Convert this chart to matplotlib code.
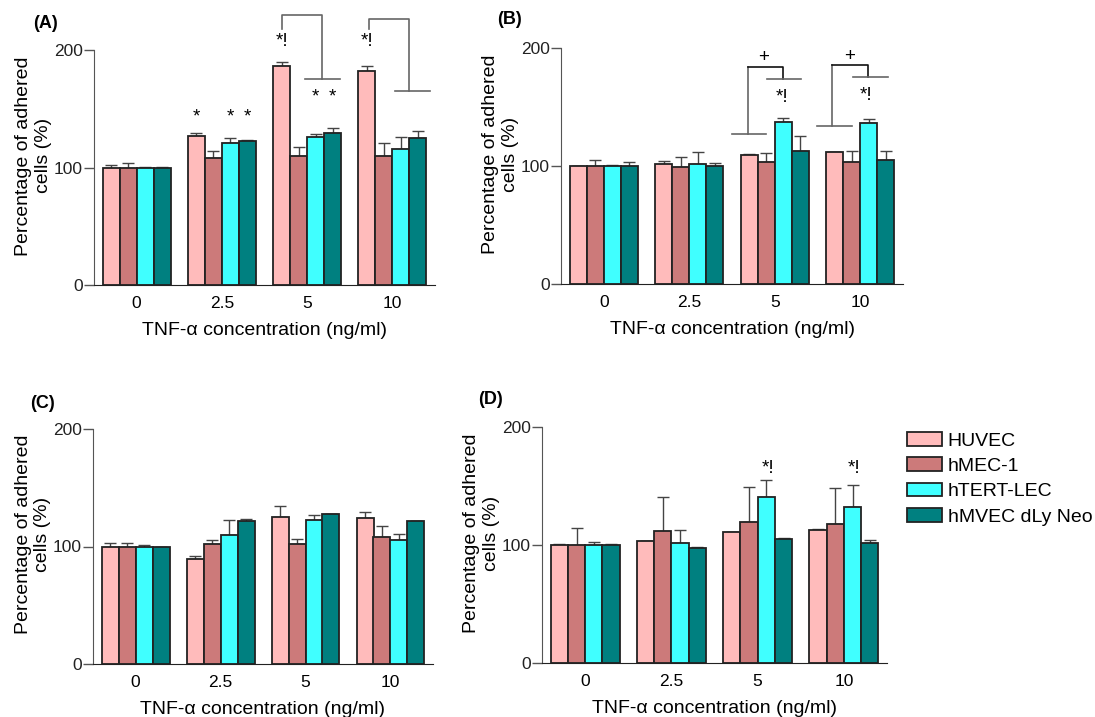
import numpy as np
import matplotlib
matplotlib.use("Agg")
import matplotlib.pyplot as plt

plt.rcParams["font.family"] = ["Liberation Sans", "DejaVu Sans"]

# --- datos ---
concentrations = ["0", "2.5", "5", "10"]
cell_lines = ["HUVEC", "hMEC-1", "hTERT-LEC", "hMVEC dLy Neo"]
colors = ["#FFBBBB", "#CC7A7A", "#40FFFF", "#008080"]

# panel A
a_huvec = [100, 126.6, 186, 182]
a_hmec = [100, 108, 110, 109.6]
a_htert = [100, 120.7, 126.3, 115.6]
a_hmvec = [100, 122.4, 129, 125]
a_huvec_err = [2, 2.5, 3.5, 4]
a_hmec_err = [4, 6.4, 7.6, 11]
a_htert_err = [0.5, 4.3, 2, 10.4]
a_hmvec_err = [0.5, 0.6, 4.4, 6.4]

# panel B
b_huvec = [100, 101.8, 109.4, 111.7]
b_hmec = [100, 99.3, 103.2, 103.2]
b_htert = [100, 102, 137, 136.8]
b_hmvec = [100, 99.9, 113, 105.5]
b_huvec_err = [0, 2.6, 0.9, 0.3]
b_hmec_err = [5.2, 8.5, 8.2, 9.8]
b_htert_err = [0.5, 9.7, 3.8, 3.4]
b_hmvec_err = [3.5, 2.5, 12.2, 7.3]

# panel C
c_huvec = [100, 89.5, 125, 124]
c_hmec = [100, 102, 102, 108.5]
c_htert = [100, 110, 122.4, 105.4]
c_hmvec = [100, 121.3, 127.8, 121.3]
c_huvec_err = [2.6, 2.3, 9.7, 5.3]
c_hmec_err = [3, 3.7, 4.3, 9.1]
c_htert_err = [1, 12.4, 4.3, 5.1]
c_hmvec_err = [0, 2.3, 0, 0]

# panel D
d_huvec = [100.3, 103.7, 110.7, 112.7]
d_hmec = [100, 112, 119.4, 118]
d_htert = [100, 101.4, 140.3, 132]
d_hmvec = [100, 97.5, 105.1, 101.7]
d_huvec_err = [0.7, 0, 0.2, 0.8]
d_hmec_err = [14.4, 28.3, 29.9, 30.5]
d_htert_err = [2.8, 11.6, 14.7, 19]
d_hmvec_err = [1, 0.8, 1.1, 2.5]

panels = {
    "(A)": ([a_huvec, a_hmec, a_htert, a_hmvec],
            [a_huvec_err, a_hmec_err, a_htert_err, a_hmvec_err]),
    "(B)": ([b_huvec, b_hmec, b_htert, b_hmvec],
            [b_huvec_err, b_hmec_err, b_htert_err, b_hmvec_err]),
    "(C)": ([c_huvec, c_hmec, c_htert, c_hmvec],
            [c_huvec_err, c_hmec_err, c_htert_err, c_hmvec_err]),
    "(D)": ([d_huvec, d_hmec, d_htert, d_hmvec],
            [d_huvec_err, d_hmec_err, d_htert_err, d_hmvec_err]),
}

# posiciones de ejes en pixeles (izq, der, arriba, abajo)
W, H = 1095, 717
boxes = {
    "(A)": (94, 435, 50, 285),
    "(B)": (561, 903, 48, 284),
    "(C)": (93, 433, 429, 664),
    "(D)": (542, 887, 427, 663),
}
label_pos = {"(A)": (33, 23), "(B)": (497, 20), "(C)": (30, 403), "(D)": (478, 400)}

fig = plt.figure(figsize=(W / 100, H / 100), dpi=100)
axes = {}
x = np.arange(len(concentrations))
width = 0.2

for name, (means, errs) in panels.items():
    l, r, t, b = boxes[name]
    ax = fig.add_axes([l / W, 1 - b / H, (r - l) / W, (b - t) / H])
    axes[name] = ax
    for i, (m, e) in enumerate(zip(means, errs)):
        pos = x + (i - 1.5) * width
        ax.bar(pos, m, width, color=colors[i], edgecolor="#222222",
               linewidth=1.3, label=cell_lines[i], zorder=2)
        ax.errorbar(pos, m, yerr=[np.zeros(len(e)), e], fmt="none",
                    ecolor="#444444", elinewidth=1.0, capsize=4, capthick=1.0,
                    zorder=1)
    ax.set_xlim(-0.5, 3.5)
    ax.set_ylim(0, 200)
    ax.set_yticks([0, 100, 200])
    ax.set_xticks(x)
    ax.set_xticklabels(concentrations)
    ax.tick_params(axis="x", length=0, pad=8, labelsize=12.5)
    ax.tick_params(axis="y", length=7, width=1, colors="#555555",
                   labelcolor="#222222", labelsize=12.5, pad=1)
    ax.spines["top"].set_visible(False)
    ax.spines["right"].set_visible(False)
    ax.spines["left"].set_color("#555555")
    ax.spines["bottom"].set_color("#222222")
    ax.set_xlabel("TNF-\u03b1 concentration (ng/ml)", fontsize=14, labelpad=8)
    ax.set_ylabel("Percentage of adhered\ncells (%)", fontsize=14,
                  linespacing=1.2)
    ax.yaxis.set_label_coords(-0.123, 0.55)
    fig.text(label_pos[name][0] / W, 1 - label_pos[name][1] / H, name,
             fontsize=13, fontweight="bold", va="center", ha="left")


def line(ax, xs, ys, color="#666666"):
    ax.plot(xs, ys, color=color, linewidth=1.2, clip_on=False, zorder=3)


def mark(ax, xpos, ypos, text):
    ax.text(xpos, ypos, text, ha="center", va="center", fontsize=13.5,
            clip_on=False)


# anotaciones A
ax = axes["(A)"]
for xp in [0.7, 1.1, 1.3]:
    mark(ax, xp, 143, "*")
for xp in [2.1, 2.3]:
    mark(ax, xp, 160, "*")
mark(ax, 1.7, 207, "*!")
mark(ax, 2.7, 207, "*!")
line(ax, [1.7, 1.7, 2.18, 2.18], [218, 230, 230, 175])
line(ax, [1.97, 2.38], [175, 175])
line(ax, [2.72, 2.72, 3.2, 3.2], [218, 226, 226, 165.4])
line(ax, [3.03, 3.44], [165.4, 165.4])

# anotaciones B
ax = axes["(B)"]
line(ax, [1.5, 1.9], [127, 127])
line(ax, [1.69, 1.69], [127, 184])
line(ax, [1.69, 2.1, 2.1], [184, 184, 173.5], color="#111111")
line(ax, [1.91, 2.31], [173.5, 173.5])
mark(ax, 1.87, 192, "+")
mark(ax, 2.09, 158, "*!")
line(ax, [2.49, 2.9], [133.7, 133.7])
line(ax, [2.67, 2.67], [133.7, 186])
line(ax, [2.67, 3.09, 3.09], [186, 186, 175.5], color="#111111")
line(ax, [2.92, 3.32], [175.5, 175.5])
mark(ax, 2.88, 193, "+")
mark(ax, 3.07, 160, "*!")

# anotaciones D
ax = axes["(D)"]
mark(ax, 2.12, 165, "*!")
mark(ax, 3.12, 165, "*!")

handles, labels = axes["(D)"].get_legend_handles_labels()
fig.legend(handles, labels, loc="upper left",
           bbox_to_anchor=(907 / W, 1 - 432 / H), frameon=False,
           fontsize=14, handlelength=1.8, handleheight=0.7,
           handletextpad=0.3, labelspacing=0.4, borderaxespad=0, borderpad=0)

fig.savefig("out.png", dpi=100)
